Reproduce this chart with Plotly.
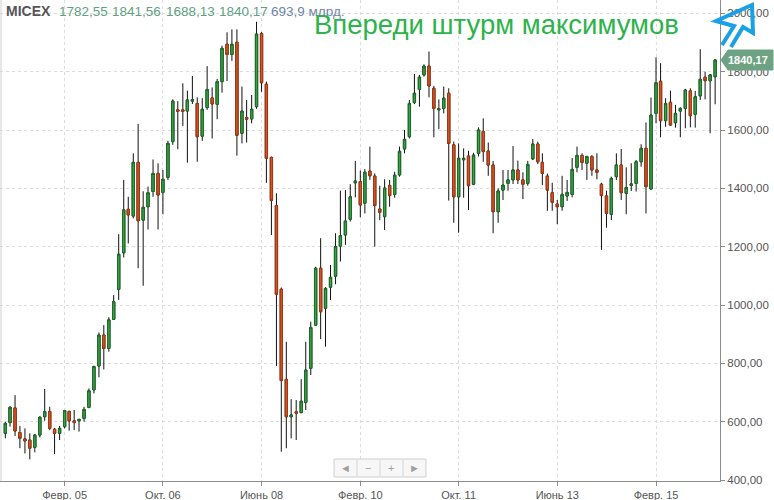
import plotly.graph_objects as go
import pandas as pd
import numpy as np

# Monthly MICEX candles, Feb 2004 .. Feb 2016
months = pd.date_range("2004-02-01", periods=145, freq="MS")

open_ = [560, 597, 647, 563, 541, 537, 512, 554, 617, 635, 574, 560, 583, 635, 603, 603, 611, 649, 709, 791,
         897, 851, 951, 1054, 1179, 1328, 1305, 1489, 1291, 1337, 1389, 1451, 1386, 1438, 1560, 1669, 1669, 1665, 1699, 1691,
         1579, 1677, 1710, 1688, 1766, 1894, 1859, 1901, 1589, 1643, 1638, 1680, 1931, 1757, 1506, 1341, 1054, 745, 617, 634,
         631, 666, 783, 931, 1126, 989, 1061, 1099, 1202, 1240, 1294, 1419, 1423, 1349, 1459, 1442, 1329, 1303, 1410, 1379,
         1446, 1535, 1577, 1694, 1739, 1789, 1819, 1743, 1669, 1674, 1726, 1549, 1371, 1498, 1511, 1414, 1520, 1595, 1528, 1480,
         1320, 1394, 1417, 1429, 1463, 1429, 1417, 1501, 1552, 1489, 1442, 1385, 1346, 1337, 1374, 1379, 1472, 1513, 1486, 1509,
         1463, 1414, 1374, 1311, 1440, 1480, 1383, 1410, 1417, 1491, 1537, 1398, 1657, 1767, 1632, 1695, 1625, 1665, 1674, 1734,
         1654, 1717, 1781, 1769, 1782.55]
high = [600, 654, 691, 585, 577, 560, 558, 619, 712, 651, 579, 585, 640, 638, 640, 608, 651, 714, 792, 906,
        931, 958, 1034, 1243, 1429, 1371, 1520, 1621, 1390, 1406, 1499, 1486, 1463, 1563, 1705, 1699, 1760, 1735, 1785, 1712,
        1709, 1819, 1746, 1775, 1889, 1935, 1945, 1945, 1749, 1703, 1720, 1971, 1936, 1766, 1509, 1383, 1060, 874, 677, 674,
        746, 874, 943, 1131, 1229, 1061, 1137, 1246, 1392, 1394, 1414, 1494, 1461, 1466, 1543, 1451, 1409, 1431, 1429, 1457,
        1543, 1600, 1703, 1792, 1789, 1825, 1869, 1751, 1705, 1749, 1743, 1560, 1554, 1537, 1529, 1522, 1609, 1640, 1557, 1494,
        1400, 1463, 1463, 1545, 1495, 1455, 1494, 1569, 1560, 1520, 1451, 1419, 1360, 1443, 1429, 1504, 1543, 1520, 1512, 1514,
        1520, 1419, 1392, 1440, 1520, 1535, 1472, 1486, 1497, 1551, 1626, 1711, 1849, 1829, 1709, 1735, 1686, 1678, 1741, 1743,
        1734, 1877, 1800, 1792, 1841.56]
low = [543, 583, 551, 509, 491, 471, 495, 546, 603, 571, 489, 537, 577, 569, 571, 566, 600, 646, 697, 752,
       779, 840, 949, 1017, 1163, 1211, 1297, 1126, 1066, 1259, 1371, 1259, 1311, 1429, 1549, 1534, 1614, 1488, 1689, 1491,
       1563, 1669, 1571, 1637, 1728, 1768, 1837, 1512, 1554, 1557, 1623, 1673, 1731, 1419, 1240, 791, 497, 509, 543, 537,
       629, 640, 760, 928, 883, 857, 1017, 1071, 1149, 1206, 1286, 1369, 1301, 1314, 1429, 1200, 1291, 1257, 1337, 1368,
       1440, 1520, 1571, 1689, 1680, 1783, 1712, 1575, 1603, 1657, 1358, 1282, 1248, 1368, 1326, 1411, 1509, 1491, 1443, 1246,
       1282, 1360, 1392, 1415, 1415, 1363, 1409, 1497, 1483, 1411, 1323, 1323, 1277, 1323, 1357, 1369, 1455, 1463, 1429, 1443,
       1431, 1189, 1265, 1291, 1429, 1360, 1311, 1391, 1389, 1474, 1314, 1394, 1623, 1575, 1611, 1614, 1608, 1575, 1606, 1609,
       1608, 1703, 1705, 1589, 1688.13]
close = [594, 649, 568, 543, 534, 509, 554, 615, 634, 577, 560, 577, 638, 603, 597, 608, 642, 706, 789, 897,
         851, 949, 1011, 1174, 1326, 1309, 1489, 1289, 1335, 1385, 1451, 1377, 1431, 1554, 1699, 1664, 1664, 1703, 1704, 1577,
         1671, 1739, 1689, 1766, 1880, 1859, 1894, 1582, 1665, 1637, 1671, 1929, 1762, 1503, 1358, 1037, 741, 617, 623, 629,
         670, 777, 923, 1126, 977, 1057, 1095, 1200, 1238, 1288, 1371, 1425, 1343, 1455, 1443, 1341, 1318, 1401, 1375, 1445,
         1527, 1568, 1691, 1726, 1781, 1819, 1751, 1674, 1673, 1709, 1554, 1371, 1503, 1503, 1409, 1514, 1600, 1526, 1480, 1320,
         1391, 1411, 1429, 1463, 1429, 1414, 1482, 1552, 1491, 1451, 1394, 1352, 1337, 1379, 1386, 1465, 1513, 1489, 1509, 1463,
         1455, 1375, 1314, 1434, 1480, 1385, 1403, 1415, 1491, 1537, 1406, 1651, 1762, 1632, 1691, 1617, 1657, 1674, 1737, 1649,
         1714, 1774, 1769, 1789, 1840.17]

y_ticks = [400, 600, 800, 1000, 1200, 1400, 1600, 1800, 2000]
y_tick_text = ["400,00", "600,00", "800,00", "1000,00", "1200,00", "1400,00", "1600,00", "1800,00", "2000,00"]
x_ticks = ["2005-02-01", "2006-10-01", "2008-06-01", "2010-02-01", "2011-10-01", "2013-06-01", "2015-02-01"]
x_tick_text = ["Февр. 05", "Окт. 06", "Июнь 08", "Февр. 10", "Окт. 11", "Июнь 13", "Февр. 15"]

last_label = "1840,17"
header_vals = ["1782,55", "1841,56", "1688,13", "1840,17"]
header_vol = "693,9 млрд."
title_text = "Впереди штурм максимумов"

W, H = 774, 500
L, R, T, B = 0, 54, 0, 19
PW, PH = W - L - R, H - T - B


def px(x):
    return (x - L) / PW


def py(y):
    return 1 - (y - T) / PH


o = np.array(open_, dtype=float)
c = np.array(close, dtype=float)
body_hi = np.maximum(o, c)
body_lo = np.minimum(o, c)

fig = go.Figure()
# wicks (black)
fig.add_trace(go.Candlestick(
    x=months, open=open_, high=high, low=low, close=close,
    increasing=dict(line=dict(color="#111111", width=1), fillcolor="#111111"),
    decreasing=dict(line=dict(color="#111111", width=1), fillcolor="#111111"),
    whiskerwidth=0, hoverinfo="skip", showlegend=False))
# bodies (coloured)
fig.add_trace(go.Candlestick(
    x=months, open=open_, high=body_hi, low=body_lo, close=close,
    increasing=dict(line=dict(color="#1d6e26", width=1), fillcolor="#35a447"),
    decreasing=dict(line=dict(color="#a53a14", width=1), fillcolor="#d9521f"),
    whiskerwidth=0, showlegend=False))

font_main = "Arial, Liberation Sans, sans-serif"

fig.update_layout(
    width=W, height=H,
    margin=dict(l=L, r=R, t=T, b=B),
    paper_bgcolor="white", plot_bgcolor="white",
    font=dict(family=font_main, size=11, color="#555555"),
    boxgap=0.28,
    xaxis=dict(
        type="date", range=["2003-12-30", "2016-03-02"],
        rangeslider=dict(visible=False),
        tickvals=x_ticks, ticktext=x_tick_text,
        showgrid=True, gridcolor="#dcdcdc", griddash="dot", gridwidth=1,
        showline=True, linecolor="#8c8c8c", linewidth=1,
        ticks="outside", ticklen=4, tickcolor="#8c8c8c",
        tickfont=dict(size=11, color="#555555"),
        zeroline=False, fixedrange=True),
    yaxis=dict(
        side="right", range=[396.6, 2045.7],
        tickvals=y_ticks, ticktext=y_tick_text,
        showgrid=True, gridcolor="#dcdcdc", griddash="dot", gridwidth=1,
        showline=True, linecolor="#8c8c8c", linewidth=1,
        ticks="outside", ticklen=4, tickcolor="#8c8c8c",
        tickfont=dict(size=11.5, color="#555555"),
        zeroline=False, fixedrange=True),
)

shapes = []
# left border
shapes.append(dict(type="line", xref="paper", yref="paper", x0=px(1), x1=px(1), y0=0, y1=1,
                   line=dict(color="#d0d0d0", width=1)))
# last-price tag
tag = "M {},{} L {},{} L {},{} L {},{} L {},{} Z".format(
    px(721), py(60), px(728), py(50), px(773), py(50), px(773), py(70), px(728), py(70))
shapes.append(dict(type="path", xref="paper", yref="paper", path=tag,
                   fillcolor="#6da382", line=dict(color="#6da382", width=1), layer="above"))
# hand-drawn blue arrow
arrow = "M {},{} L {},{} L {},{} L {},{} L {},{} L {},{} L {},{}".format(
    px(722), py(45), px(734), py(26), px(716), py(21), px(752), py(5),
    px(753), py(33), px(743), py(27), px(731), py(47))
shapes.append(dict(type="path", xref="paper", yref="paper", path=arrow,
                   line=dict(color="#1aa0e6", width=4), layer="above"))
# navigator buttons
shapes.append(dict(type="rect", xref="paper", yref="paper", x0=px(334), x1=px(426), y0=py(477), y1=py(459),
                   fillcolor="#f7f7f7", line=dict(color="#cfcfcf", width=1), layer="above"))
for xd in (357, 380, 403):
    shapes.append(dict(type="line", xref="paper", yref="paper", x0=px(xd), x1=px(xd), y0=py(476), y1=py(460),
                       line=dict(color="#d5d5d5", width=1), layer="above"))
fig.update_layout(shapes=shapes)

ann = []
ann.append(dict(xref="paper", yref="paper", x=px(4), y=py(11), text="<b>MICEX</b>", showarrow=False,
                xanchor="left", yanchor="middle", font=dict(size=14, color="#555555", family=font_main)))
for xv, t in zip([57, 110, 164, 217], header_vals):
    ann.append(dict(xref="paper", yref="paper", x=px(xv), y=py(11), text=t, showarrow=False,
                    xanchor="left", yanchor="middle", font=dict(size=13.5, color="#5f9f82", family=font_main)))
ann.append(dict(xref="paper", yref="paper", x=px(269), y=py(11), text=header_vol, showarrow=False,
                xanchor="left", yanchor="middle", font=dict(size=13.5, color="#6f86a6", family=font_main)))
ann.append(dict(xref="paper", yref="paper", x=px(312), y=py(24), text=title_text, showarrow=False,
                xanchor="left", yanchor="middle", font=dict(size=27.5, color="#2db34b", family=font_main)))
ann.append(dict(xref="paper", yref="paper", x=px(748), y=py(60), text="<b>" + last_label + "</b>", showarrow=False,
                xanchor="center", yanchor="middle", font=dict(size=11, color="white", family=font_main)))
for xv, t in zip([345.5, 368.5, 391.5, 414.5], ["◄", "−", "+", "►"]):
    ann.append(dict(xref="paper", yref="paper", x=px(xv), y=py(468), text=t, showarrow=False,
                    xanchor="center", yanchor="middle", font=dict(size=11, color="#a0a0a0", family=font_main)))
fig.update_layout(annotations=ann)

fig.write_html("out.html", config={"displayModeBar": False},
               post_script="document.body.style.margin='0';document.body.style.padding='0';")
